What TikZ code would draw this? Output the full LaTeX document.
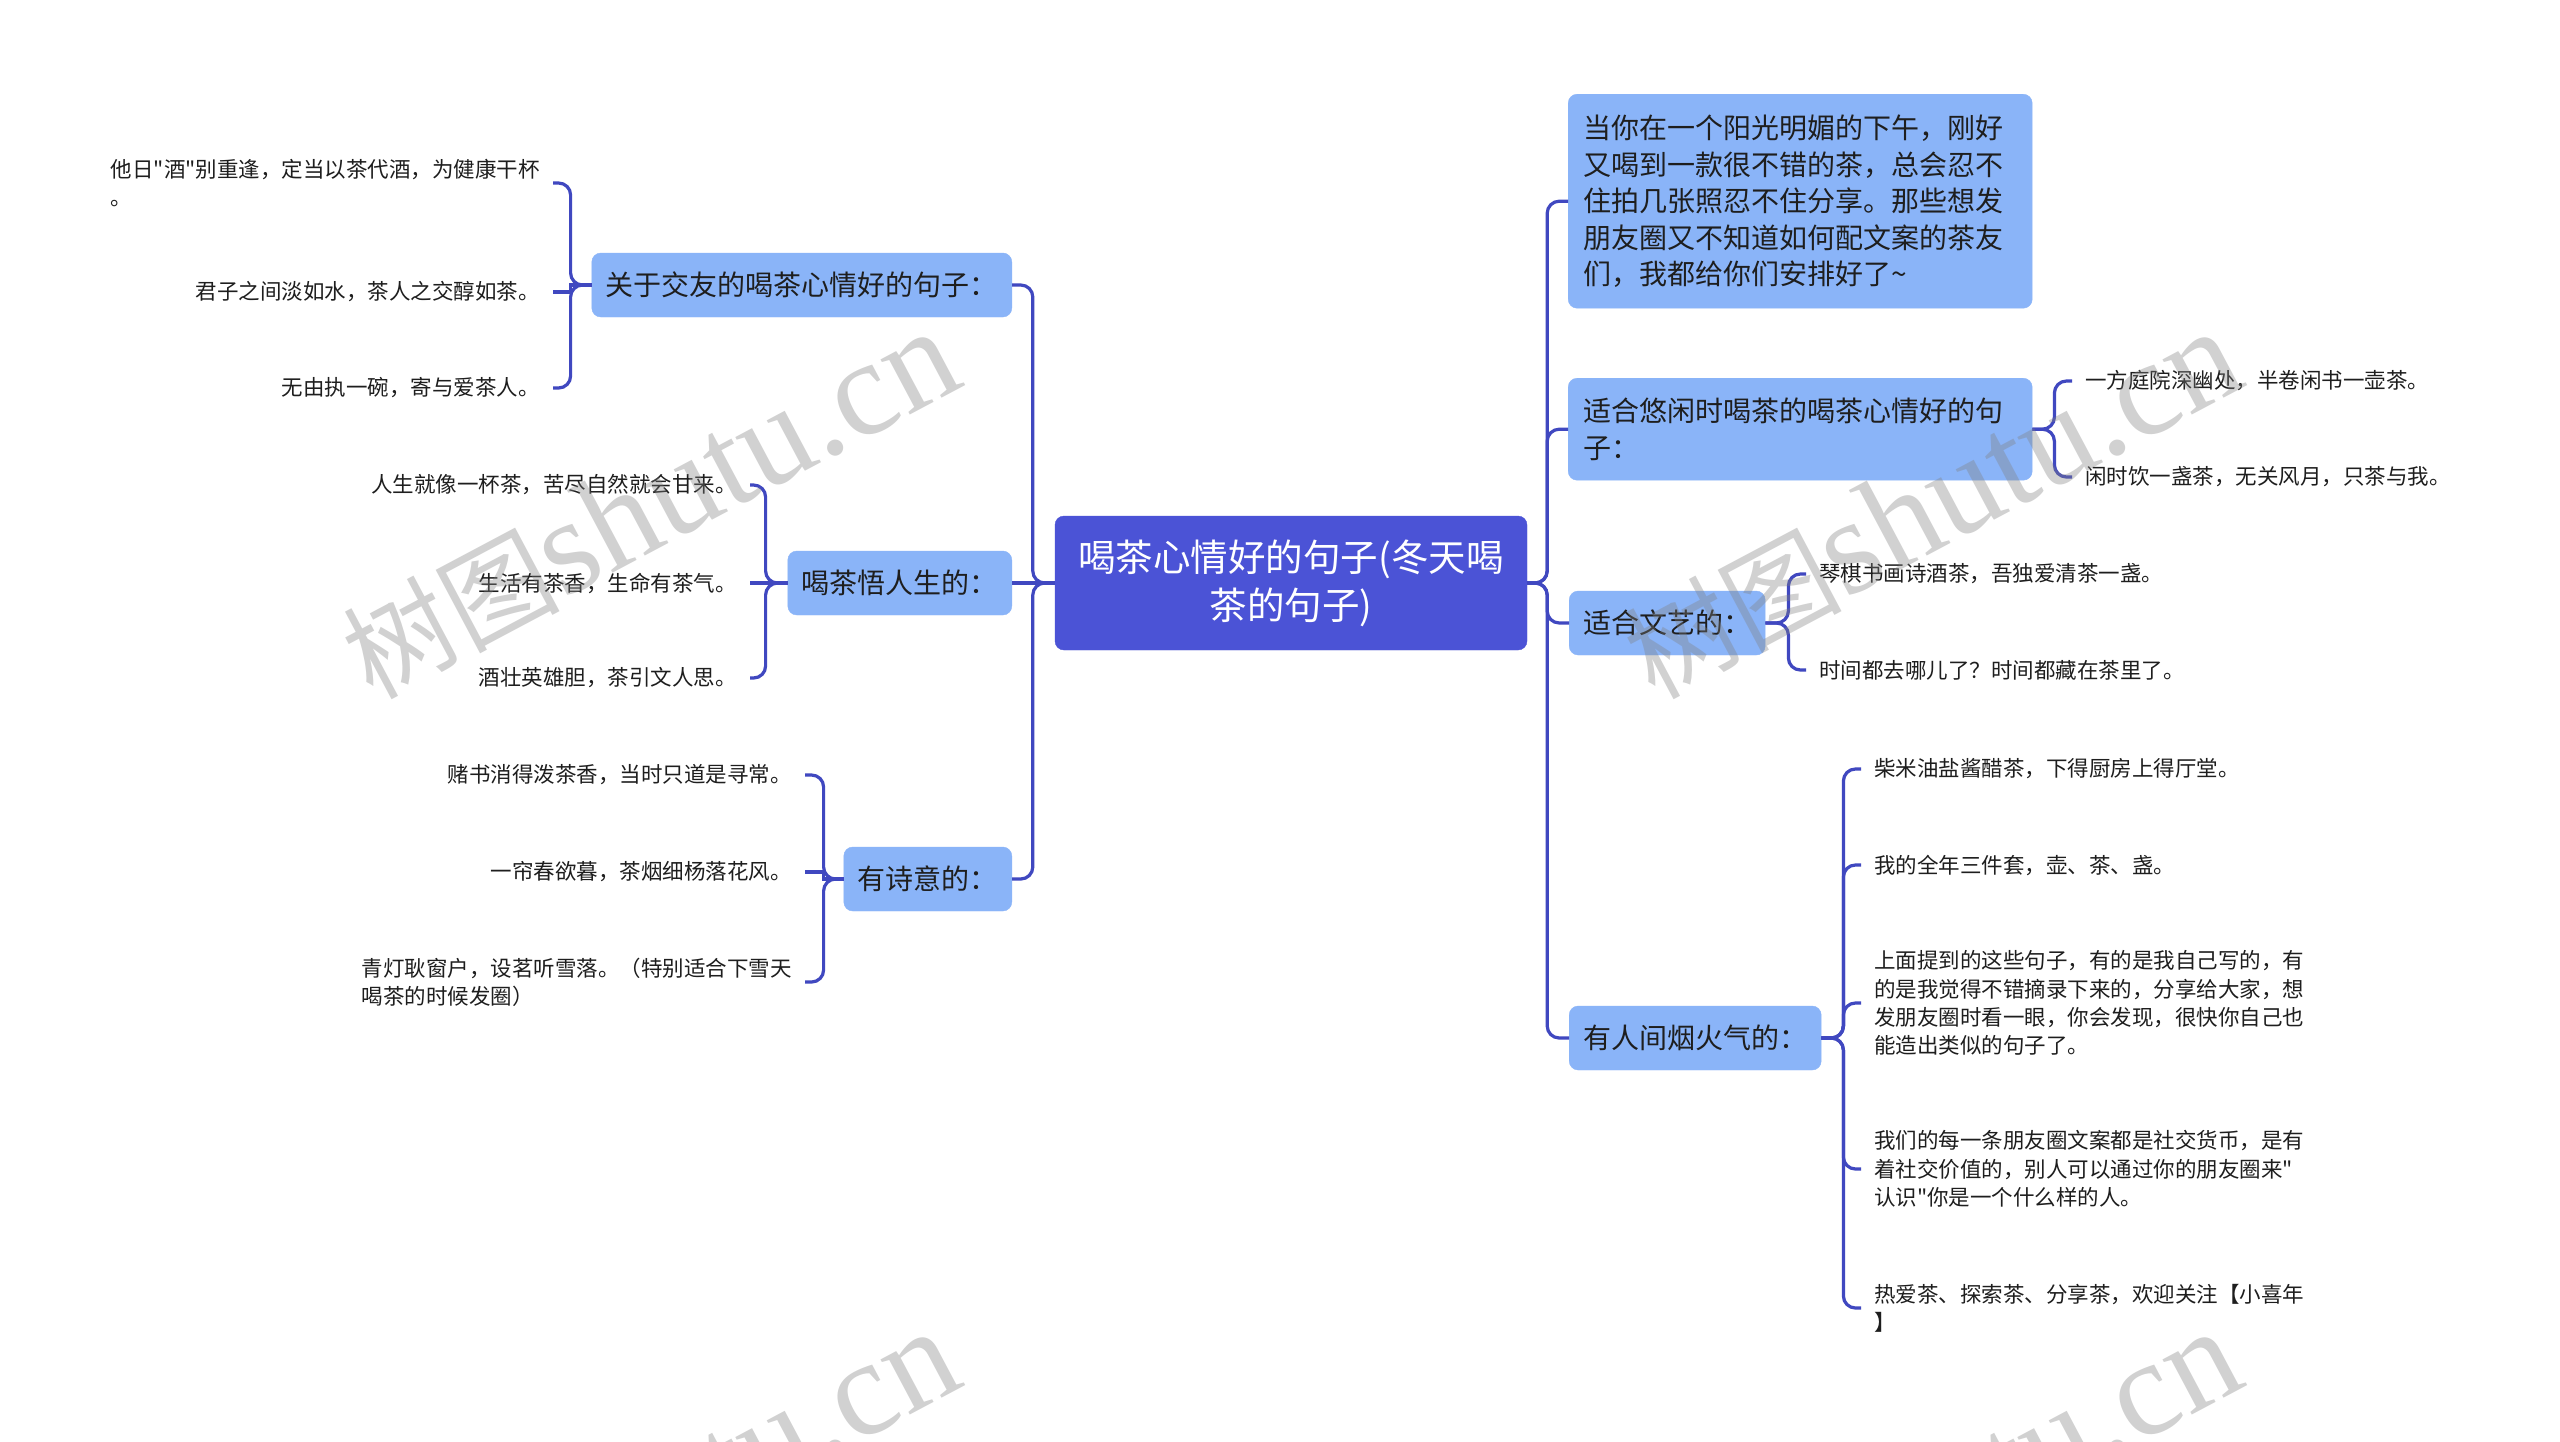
\documentclass[tikz,border=0pt]{standalone}
\usepackage{fontspec}
\setmainfont{Noto Sans CJK SC}
\newfontfamily\plainf{Noto Sans CJK SC}
\newfontfamily\wmlatin{Liberation Serif}
\newcommand\aq{{\plainf"}}
\definecolor{rootc}{HTML}{4B53D6}
\definecolor{lonec}{HTML}{8AB4F8}
\definecolor{linec}{HTML}{4048C0}
\definecolor{txtc}{HTML}{1E1E1E}
\begin{document}
\begin{tikzpicture}[x=1pt,y=-1pt,
 conn/.style={draw=linec,line width=3.2pt,rounded corners=12pt},
 root/.style={fill=rootc,draw=rootc,rounded corners=9pt,text=white,align=center,minimum width=472pt,minimum height=134pt,inner sep=0pt,font=\fontsize{37.5pt}{48pt}\selectfont},
 lone/.style={fill=lonec,draw=lonec,rounded corners=9pt,text=txtc,align=left,inner xsep=14pt,inner ysep=0pt,minimum height=64pt,font=\fontsize{28pt}{36.5pt}\selectfont},
 leaf/.style={text=txtc,align=left,inner xsep=13pt,inner ysep=3pt,font=\fontsize{21.5pt}{28.3pt}\selectfont},
 wm/.style={text=gray,opacity=0.36,rotate=28,inner sep=0pt}]
\useasboundingbox (0,0) rectangle (2560,1441);
\fill[white] (0,0) rectangle (2560,1441);

\node[root] (root) at (1291,583) {喝茶心情好的句子(冬天喝\\茶的句子)};

% left first level
\node[lone,anchor=east] (A) at (1012,285) {关于交友的喝茶心情好的句子：};
\node[lone,anchor=east] (B) at (1012,583) {喝茶悟人生的：};
\node[lone,anchor=east] (C) at (1012,879) {有诗意的：};

% right first level
\node[lone,anchor=north west,text width=434pt,inner xsep=15pt,minimum height=214pt] (R1) at (1568,94) {当你在一个阳光明媚的下午，刚好\\又喝到一款很不错的茶，总会忍不\\住拍几张照忍不住分享。那些想发\\朋友圈又不知道如何配文案的茶友\\们，我都给你们安排好了{\char"7E}};
\node[lone,anchor=north west,text width=434pt,inner xsep=15pt,minimum height=102pt] (R2) at (1568,378) {适合悠闲时喝茶的喝茶心情好的句\\子：};
\node[lone,anchor=west] (R3) at (1569,623) {适合文艺的：};
\node[lone,anchor=west] (R4) at (1569,1038) {有人间烟火气的：};

% left leaves
\node[leaf,anchor=east] (A1) at (553,183) {他日\aq 酒\aq 别重逢，定当以茶代酒，为健康干杯\\。};
\node[leaf,anchor=east] (A2) at (553,292) {君子之间淡如水，茶人之交醇如茶。};
\node[leaf,anchor=east] (A3) at (553,388) {无由执一碗，寄与爱茶人。};
\node[leaf,anchor=east] (B1) at (750,485) {人生就像一杯茶，苦尽自然就会甘来。};
\node[leaf,anchor=east] (B2) at (750,583) {生活有茶香，生命有茶气。};
\node[leaf,anchor=east] (B3) at (750,678) {酒壮英雄胆，茶引文人思。};
\node[leaf,anchor=east] (C1) at (805,775) {赌书消得泼茶香，当时只道是寻常。};
\node[leaf,anchor=east] (C2) at (805,872) {一帘春欲暮，茶烟细杨落花风。};
\node[leaf,anchor=east] (C3) at (805,982) {青灯耿窗户，设茗听雪落。（特别适合下雪天\\喝茶的时候发圈）};

% right leaves
\node[leaf,anchor=west] (D1) at (2072,381) {一方庭院深幽处，半卷闲书一壶茶。};
\node[leaf,anchor=west] (D2) at (2072,477) {闲时饮一盏茶，无关风月，只茶与我。};
\node[leaf,anchor=west] (E1) at (1806,574) {琴棋书画诗酒茶，吾独爱清茶一盏。};
\node[leaf,anchor=west] (E2) at (1806,670) {时间都去哪儿了？时间都藏在茶里了。};
\node[leaf,anchor=west] (F1) at (1861,769) {柴米油盐酱醋茶，下得厨房上得厅堂。};
\node[leaf,anchor=west] (F2) at (1861,865) {我的全年三件套，壶、茶、盏。};
\node[leaf,anchor=west] (F3) at (1861,1003) {上面提到的这些句子，有的是我自己写的，有\\的是我觉得不错摘录下来的，分享给大家，想\\发朋友圈时看一眼，你会发现，很快你自己也\\能造出类似的句子了。};
\node[leaf,anchor=west] (F4) at (1861,1169) {我们的每一条朋友圈文案都是社交货币，是有\\着社交价值的，别人可以通过你的朋友圈来\aq\\认识\aq 你是一个什么样的人。};
\node[leaf,anchor=west] (F5) at (1861,1308) {热爱茶、探索茶、分享茶，欢迎关注【小喜年\\】};

% connectors root
\foreach \n in {A,C} \draw[conn] (root.west) -- ++(-22,0) |- (\n.east);
\draw[conn,sharp corners] (root.west) -- (B.east);
\foreach \n in {R1,R2,R3,R4} \draw[conn] (root.east) -- ++(20,0) |- (\n.west);
% brackets left
\foreach \n in {A1,A3} \draw[conn] (A.west) -- ++(-21,0) |- (\n.east);
\draw[conn,sharp corners] (A.west) -- ++(-21,0) |- (A2.east);
\foreach \n in {B1,B3} \draw[conn] (B.west) -- ++(-22,0) |- (\n.east);
\draw[conn,sharp corners] (B.west) -- (B2.east);
\foreach \n in {C1,C3} \draw[conn] (C.west) -- ++(-20,0) |- (\n.east);
\draw[conn,sharp corners] (C.west) -- ++(-20,0) |- (C2.east);
% brackets right
\foreach \n in {D1,D2} \draw[conn] (R2.east) -- ++(22,0) |- (\n.west);
\foreach \n in {E1,E2} \draw[conn] (R3.east) -- ++(23,0) |- (\n.west);
\foreach \n in {F1,F2,F3,F4,F5} \draw[conn] (R4.east) -- ++(22,0) |- (\n.west);

% watermarks
\begin{scope}
\clip (0,0) rectangle (2560,1441);
\foreach \wx/\wy [count=\i] in {650/505,1932/505,650/1505,1932/1505}
  \node[wm] (wm\i) at (\wx,\wy) {{\fontsize{108pt}{108pt}\selectfont 树图}{\wmlatin\fontsize{136pt}{136pt}\selectfont shutu.cn}};
\end{scope}
\end{tikzpicture}
\end{document}
